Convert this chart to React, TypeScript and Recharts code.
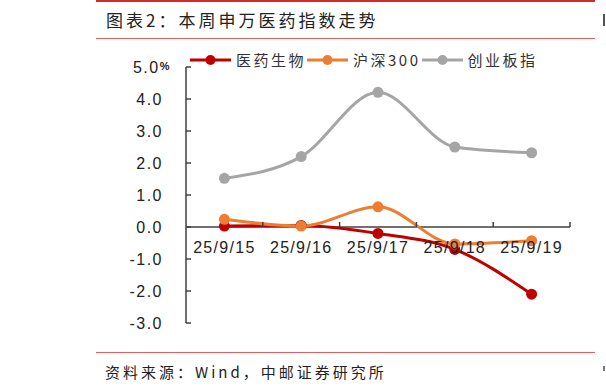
import { LineChart, Line, XAxis, YAxis, ReferenceLine } from 'recharts';

const dates = ['25/9/15', '25/9/16', '25/9/17', '25/9/18', '25/9/19'];
const pharma = [0.03, 0.05, -0.2, -0.7, -2.1];
const csi300 = [0.24, 0.03, 0.63, -0.53, -0.43];
const chinext = [1.52, 2.2, 4.21, 2.5, 2.32];
const yTicks = [-3, -2, -1, 0, 1, 2, 3, 4, 5];

const series = [
  { key: 'pharma', name: '医药生物', color: '#C00000' },
  { key: 'csi300', name: '沪深300', color: '#ED7D31' },
  { key: 'chinext', name: '创业板指', color: '#A5A5A5' },
];

const data = dates.map((d, i) => ({
  date: d,
  pharma: pharma[i],
  csi300: csi300[i],
  chinext: chinext[i],
}));

// plot box
const W = 606;
const H = 392;
const X_AXIS_H = 30;
const Y_AXIS_W = 60;
const M = { top: 67, right: 36, bottom: 69 - X_AXIS_H, left: 126 };
const Y_MIN = -3;
const Y_MAX = 5;
const plotH = H - M.top - M.bottom - X_AXIS_H;
const zeroOffset = (plotH * (0 - Y_MIN)) / (Y_MAX - Y_MIN);
const band = (W - M.left - Y_AXIS_W - M.right) / dates.length;
const AXIS_COLOR = '#404040';
const CJK = '"Noto Sans CJK SC", sans-serif';
const LATIN = "'Liberation Sans', Arial, sans-serif";

const YTick = (props: any) => {
  const { x, y, payload } = props;
  const v = payload.value as number;
  return (
    <g>
      <line x1={x + 23} x2={x + 28} y1={y} y2={y} stroke={AXIS_COLOR} strokeWidth={1.5} />
      <text
        x={v === 5 ? x + 8 : x}
        y={y}
        dy={5.5}
        textAnchor="end"
        fill="#222"
        fontSize={16}
        letterSpacing={1.5}
        fontFamily={LATIN}
      >
        {v.toFixed(1)}
        {v === 5 && (
          <tspan fontSize={11} fontWeight="bold" dy={-3}>
            %
          </tspan>
        )}
      </text>
    </g>
  );
};

const XTick = (props: any) => {
  const { x, y, payload } = props;
  // labels sit just under the zero line
  const zeroY = y - zeroOffset;
  return (
    <g>
      <line x1={x + band / 2} x2={x + band / 2} y1={zeroY} y2={zeroY - 5} stroke={AXIS_COLOR} strokeWidth={1.5} />
      <text
        x={x}
        y={zeroY + 26}
        textAnchor="middle"
        fill="#222"
        fontSize={16}
        letterSpacing={1.3}
        fontFamily={LATIN}
      >
        {payload.value}
      </text>
    </g>
  );
};

const LegendRow = () => (
  <div
    style={{
      position: 'absolute',
      left: 190,
      top: 50,
      display: 'flex',
      alignItems: 'center',
      fontFamily: CJK,
      fontSize: 15,
      color: '#333',
      lineHeight: '20px',
    }}
  >
    {series.map((s) => (
      <div key={s.key} style={{ display: 'flex', alignItems: 'center', marginRight: 1 }}>
        <svg width={41} height={12} style={{ marginRight: 5 }}>
          <line x1={0} x2={41} y1={6} y2={6} stroke={s.color} strokeWidth={3} />
          <circle cx={20.5} cy={6} r={5} fill={s.color} />
        </svg>
        <span style={{ letterSpacing: 2.5 }}>{s.name}</span>
      </div>
    ))}
  </div>
);

export default function App() {
  return (
    <div style={{ position: 'absolute', left: 0, top: 0, width: W, height: H, background: '#fff', overflow: 'hidden' }}>
      <div style={{ position: 'absolute', left: 96, top: 0, width: 499, height: 2, background: '#D42A2A' }} />
      <div
        style={{
          position: 'absolute',
          left: 106,
          top: 8,
          fontFamily: CJK,
          fontSize: 17,
          letterSpacing: 3,
          color: '#222',
          lineHeight: '24px',
        }}
      >
        图表2：本周申万医药指数走势
      </div>
      <div style={{ position: 'absolute', left: 96, top: 38, width: 499, height: 1, background: '#E06060' }} />
      <div style={{ position: 'absolute', left: 603, top: 14, width: 2, height: 12, background: '#555' }} />

      <div style={{ position: 'absolute', left: 0, top: 0 }}>
        <LineChart width={W} height={H} data={data} margin={M}>
          <XAxis
            dataKey="date"
            axisLine={false}
            tickLine={false}
            tickSize={0}
            tickMargin={0}
            tick={<XTick />}
            interval={0}
            height={X_AXIS_H}
            padding={{ left: band / 2, right: band / 2 }}
          />
          <YAxis
            domain={[Y_MIN, Y_MAX]}
            ticks={yTicks}
            width={Y_AXIS_W}
            tickSize={0}
            tickMargin={23}
            tick={<YTick />}
            axisLine={{ stroke: AXIS_COLOR, strokeWidth: 1.5 }}
            tickLine={false}
          />
          <ReferenceLine y={0} stroke={AXIS_COLOR} strokeWidth={1.5} />
          {series.map((s) => (
            <Line
              key={s.key}
              type="monotone"
              dataKey={s.key}
              name={s.name}
              stroke={s.color}
              strokeWidth={3}
              dot={{ r: 5.5, fill: s.color, stroke: 'none' }}
              isAnimationActive={false}
            />
          ))}
        </LineChart>
      </div>
      <LegendRow />

      <div style={{ position: 'absolute', left: 96, top: 352, width: 499, height: 1, background: '#E06060' }} />
      <div
        style={{
          position: 'absolute',
          left: 105,
          top: 361,
          fontFamily: CJK,
          fontSize: 15,
          letterSpacing: 3,
          color: '#222',
          lineHeight: '22px',
        }}
      >
        资料来源：Wind，中邮证券研究所
      </div>
      <div style={{ position: 'absolute', left: 603, top: 366, width: 2, height: 5, background: '#777' }} />
    </div>
  );
}
